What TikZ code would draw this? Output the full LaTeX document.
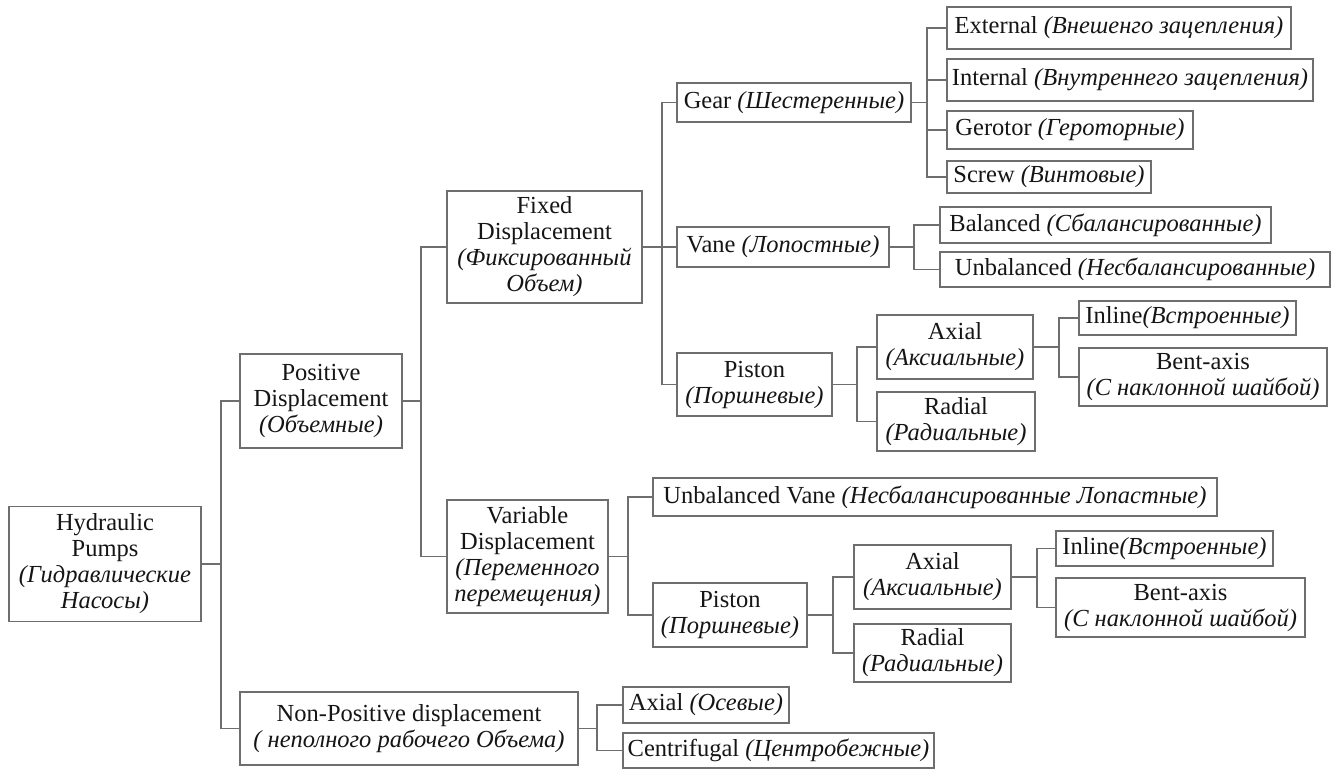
\documentclass[tikz,border=0pt]{standalone}
\usepackage{fontspec}
\setmainfont{Liberation Serif}
\definecolor{ln}{HTML}{6E6E6E}
\definecolor{tx}{HTML}{151515}
\tikzset{
  box/.style={draw=ln, line width=1.5pt, inner sep=0pt, align=center, text=tx,
    font=\fontsize{24.5}{26}\selectfont},
  conn/.style={draw=ln, line width=1.5pt}
}
\begin{document}
\begin{tikzpicture}[x=1pt,y=-1pt]
\useasboundingbox[fill=white] (0,0) rectangle (1336,769);
% level 0
\node[box, minimum width=192, minimum height=115] (hp) at (105,564) {Hydraulic\\Pumps\\\textit{(Гидравлические}\\\textit{Насосы)}};
% level 1
\node[box, minimum width=162, minimum height=94] (pd) at (321,401) {Positive\\Displacement\\\textit{(Объемные)}};
\node[box, minimum width=338, minimum height=73] (np) at (409,728.5) {Non-Positive displacement\\\textit{( неполного рабочего Объема)}};
% level 2
\node[box, minimum width=195, minimum height=112] (fd) at (544.5,247) {Fixed\\Displacement\\\textit{(Фиксированный}\\\textit{Объем)}};
\node[box, minimum width=161, minimum height=113] (vd) at (527.5,556.5) {Variable\\Displacement\\\textit{(Переменного}\\\textit{перемещения)}};
\node[box, minimum width=166, minimum height=36] (nax) at (706,705) {Axial \textit{(Осевые)}};
\node[box, minimum width=311, minimum height=35] (cent) at (778.5,750.5) {Centrifugal \textit{(Центробежные)}};
% fixed children
\node[box, minimum width=234, minimum height=39] (gear) at (794,102.5) {Gear \textit{(Шестеренные)}};
\node[box, minimum width=212, minimum height=40] (vane) at (783,247) {Vane \textit{(Лопостные)}};
\node[box, minimum width=155, minimum height=63] (pist1) at (754.5,384.5) {Piston\\\textit{(Поршневые)}};
% gear children
\node[box, minimum width=344, minimum height=42] (ext) at (1119,28) {External \textit{(Внешенго зацепления)}};
\node[box, minimum width=366, minimum height=42] (int) at (1130,80) {Internal \textit{(Внутреннего зацепления)}};
\node[box, minimum width=246, minimum height=38] (gero) at (1070,130) {Gerotor \textit{(Героторные)}};
\node[box, minimum width=204, minimum height=32] (screw) at (1049,177) {Screw \textit{(Винтовые)}};
% vane children
\node[box, minimum width=331, minimum height=36] (bal) at (1105.5,225) {Balanced \textit{(Сбалансированные)}};
\node[box, minimum width=390, minimum height=35] (unbal) at (1135,269.5) {Unbalanced \textit{(Несбалансированные)}};
% piston 1 children
\node[box, minimum width=156, minimum height=64] (ax1) at (955,347) {Axial\\\textit{(Аксиальные)}};
\node[box, minimum width=158, minimum height=59] (rad1) at (956,421.5) {Radial\\\textit{(Радиальные)}};
\node[box, minimum width=217, minimum height=34] (inl1) at (1187.5,318) {Inline\textit{(Встроенные)}};
\node[box, minimum width=248, minimum height=58] (bent1) at (1203,377) {Bent-axis\\\textit{(С наклонной шайбой)}};
% variable children
\node[box, minimum width=564, minimum height=38] (uv) at (935,497) {Unbalanced Vane \textit{(Несбалансированные Лопастные)}};
\node[box, minimum width=154, minimum height=64] (pist2) at (730,615) {Piston\\\textit{(Поршневые)}};
\node[box, minimum width=157, minimum height=64] (ax2) at (932.5,577) {Axial\\\textit{(Аксиальные)}};
\node[box, minimum width=157, minimum height=58] (rad2) at (932.5,653) {Radial\\\textit{(Радиальные)}};
\node[box, minimum width=217, minimum height=35] (inl2) at (1164.5,548.5) {Inline\textit{(Встроенные)}};
\node[box, minimum width=249, minimum height=59] (bent2) at (1180.5,607.5) {Bent-axis\\\textit{(С наклонной шайбой)}};
% junctions
\coordinate (j0) at (221,564);
\coordinate (j1) at (421,401);
\coordinate (j2) at (662,247);
\coordinate (j3) at (927,102.5);
\coordinate (j4) at (914,247);
\coordinate (j5) at (857,384.5);
\coordinate (j6) at (1059,347);
\coordinate (j7) at (628,556.5);
\coordinate (j8) at (833,615);
\coordinate (j9) at (1037,577);
\coordinate (j10) at (597,728.5);
% connectors
\draw[conn] (hp.east) -- (j0);
\draw[conn] (pd.west) -| (j0);
\draw[conn] (np.west) -| (j0);
\draw[conn] (pd.east) -- (j1);
\draw[conn] (fd.west) -| (j1);
\draw[conn] (vd.west) -| (j1);
\draw[conn] (fd.east) -- (j2);
\draw[conn] (gear.west) -| (j2);
\draw[conn] (vane.west) -| (j2);
\draw[conn] (pist1.west) -| (j2);
\draw[conn] (gear.east) -- (j3);
\draw[conn] (ext.west) -| (j3);
\draw[conn] (int.west) -| (j3);
\draw[conn] (gero.west) -| (j3);
\draw[conn] (screw.west) -| (j3);
\draw[conn] (vane.east) -- (j4);
\draw[conn] (bal.west) -| (j4);
\draw[conn] (unbal.west) -| (j4);
\draw[conn] (pist1.east) -- (j5);
\draw[conn] (ax1.west) -| (j5);
\draw[conn] (rad1.west) -| (j5);
\draw[conn] (ax1.east) -- (j6);
\draw[conn] (inl1.west) -| (j6);
\draw[conn] (bent1.west) -| (j6);
\draw[conn] (vd.east) -- (j7);
\draw[conn] (uv.west) -| (j7);
\draw[conn] (pist2.west) -| (j7);
\draw[conn] (pist2.east) -- (j8);
\draw[conn] (ax2.west) -| (j8);
\draw[conn] (rad2.west) -| (j8);
\draw[conn] (ax2.east) -- (j9);
\draw[conn] (inl2.west) -| (j9);
\draw[conn] (bent2.west) -| (j9);
\draw[conn] (np.east) -- (j10);
\draw[conn] (nax.west) -| (j10);
\draw[conn] (cent.west) -| (j10);
\end{tikzpicture}
\end{document}
